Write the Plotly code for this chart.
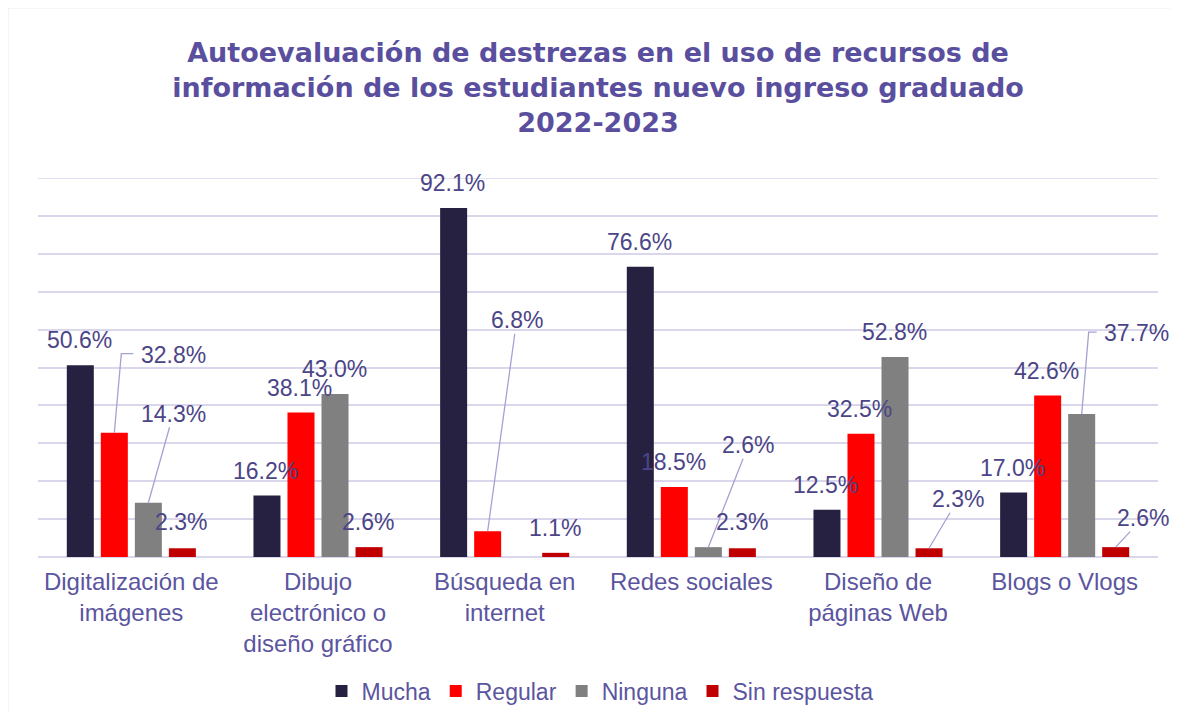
import plotly.graph_objects as go

categories = ["Digitalización de<br>imágenes", "Dibujo<br>electrónico o<br>diseño gráfico",
              "Búsqueda en<br>internet", "Redes sociales", "Diseño de<br>páginas Web", "Blogs o Vlogs"]
series_names = ["Mucha", "Regular", "Ninguna", "Sin respuesta"]
mucha = [50.6, 16.2, 92.1, 76.6, 12.5, 17.0]
regular = [32.8, 38.1, 6.8, 18.5, 32.5, 42.6]
ninguna = [14.3, 43.0, 0.0, 2.6, 52.8, 37.7]
sin_respuesta = [2.3, 2.6, 1.1, 2.3, 2.3, 2.6]
series_values = [mucha, regular, ninguna, sin_respuesta]
colors = ["#262140", "#FF0000", "#808080", "#C00000"]

# label placement overrides (pixel offsets of label centre from bar top; +y = up)
straight_leaders = {  # (series, category): (dx, dy)
    (2, 0): (25, 89),
    (1, 2): (29, 211),
    (2, 3): (40, 102),
    (3, 4): (29, 49),
    (3, 5): (27, 29),
}
elbow_leaders = {  # (series, category): (dx, dy) label centre; elbow drawn
    (1, 0): (59, 78),
    (2, 5): (55, 81),
}
default_shift = {
    (3, 0): (-1, 26), (3, 3): (0, 26),
}

BARGAP = 0.271
GROUPGAP = 0.206
slot = (1 - BARGAP) / 4

LABEL_COLOR = "#4B4587"
LEADER_COLOR = "#A5A1D3"
FONT = "Liberation Sans, Arial, sans-serif"
LSIZE = 23

# the page body adds an 8px offset on every side; figure is sized to fit the window
W, H = 1170, 705

fig = go.Figure()
for k, (name, vals) in enumerate(zip(series_names, series_values)):
    fig.add_trace(go.Bar(x=categories, y=vals, name=name, marker_color=colors[k],
                         marker_line_width=0))

annotations = []
shapes = []
for k, vals in enumerate(series_values):
    for i, v in enumerate(vals):
        if v == 0:
            continue
        bx = i + (k - 1.5) * slot
        txt = f"{v:.1f}%"
        font = dict(size=LSIZE, color=LABEL_COLOR, family=FONT)
        if (k, i) in straight_leaders:
            dx, dy = straight_leaders[(k, i)]
            annotations.append(dict(x=bx, y=v, xref="x", yref="y", text=txt, showarrow=True,
                                    arrowhead=0, arrowwidth=1.3, arrowcolor=LEADER_COLOR,
                                    ax=dx, ay=-dy, standoff=0, borderpad=0, font=font))
        elif (k, i) in elbow_leaders:
            dx, dy = elbow_leaders[(k, i)]
            annotations.append(dict(x=bx, y=v, xref="x", yref="y", text=txt, showarrow=False,
                                    xshift=dx, yshift=dy, font=font))
            shapes.append(dict(type="path", xref="x", yref="y", xsizemode="pixel",
                               ysizemode="pixel", xanchor=bx, yanchor=v,
                               path=f"M0,0 L7,{dy + 1} L{dx - 40},{dy + 1}",
                               line=dict(color=LEADER_COLOR, width=1.3)))
        else:
            dx, dy = default_shift.get((k, i), (-1, 25))
            annotations.append(dict(x=bx, y=v, xref="x", yref="y", text=txt, showarrow=False,
                                    xshift=dx, yshift=dy, font=font))

# top gridline (100%) and chart border (only left/top visible in the frame)
shapes.append(dict(type="line", xref="paper", yref="y", x0=0, x1=1, y0=100, y1=100,
                   line=dict(color="#DAD7EC", width=1.5), layer="below"))
shapes.append(dict(type="rect", xref="paper", yref="paper", x0=-0.0272, x1=1.2, y0=-0.7, y1=1.4499,
                   line=dict(color="#DAD7EC", width=1.5), fillcolor="rgba(0,0,0,0)", layer="below"))

fig.update_layout(
    width=W, height=H,
    margin=dict(l=30, r=20, t=170, b=H - 549, autoexpand=False),
    paper_bgcolor="white", plot_bgcolor="white",
    barmode="group", bargap=BARGAP, bargroupgap=GROUPGAP,
    title=dict(text="Autoevaluación de destrezas en el uso de recursos de<br>información de los estudiantes nuevo ingreso graduado<br>2022-2023",
               x=0.5, xref="paper", xanchor="center", y=1 - 53.5 / H, yanchor="middle",
               automargin=False,
               font=dict(size=27, color="#5A4F9E", family="DejaVu Sans, sans-serif", weight="bold")),
    xaxis=dict(range=[-0.5, len(categories) - 0.5], autorange=False,
               showgrid=False, showline=False, ticks="", ticklabelstandoff=8, automargin=False,
               tickfont=dict(size=24, color="#5B55A0", family=FONT)),
    yaxis=dict(range=[0, 100], autorange=False, dtick=10, showticklabels=False, showgrid=True,
               automargin=False,
               gridcolor="#DAD7EC", gridwidth=1.5, zeroline=True, zerolinecolor="#DAD7EC",
               zerolinewidth=1.5, showline=False, ticks=""),
    legend=dict(orientation="h", xref="container", yref="container",
                x=592 / W, xanchor="center", y=1 - 683 / H, yanchor="middle",
                font=dict(size=23, color="#5B55A0", family=FONT), itemwidth=30,
                traceorder="normal"),
    annotations=annotations, shapes=shapes,
    showlegend=True,
)

fig.write_html("out.html")
